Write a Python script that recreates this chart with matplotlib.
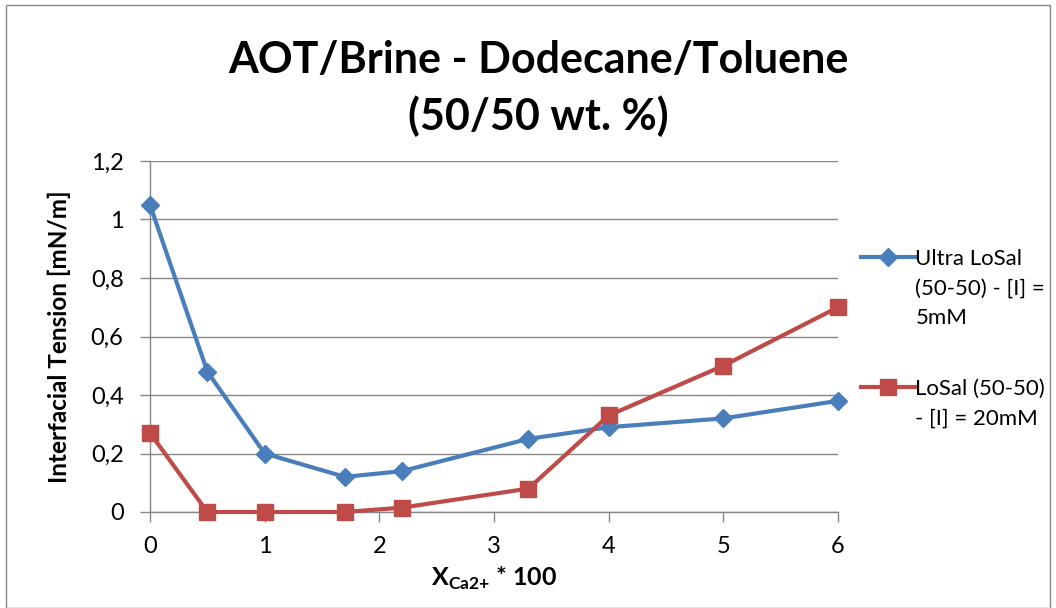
import matplotlib

matplotlib.use("Agg")
import matplotlib.pyplot as plt
from matplotlib.patches import Rectangle
from matplotlib.ticker import FuncFormatter, MultipleLocator

plt.rcParams["font.family"] = ["Lato", "DejaVu Sans"]

x_ca = [0, 0.5, 1, 1.7, 2.2, 3.3, 4, 5, 6]
ultra_losal = [1.05, 0.48, 0.20, 0.12, 0.14, 0.25, 0.29, 0.32, 0.38]
losal = [0.27, 0.0, 0.0, 0.0, 0.015, 0.08, 0.33, 0.50, 0.70]
series_labels = ["Ultra LoSal\n(50-50) - [I] =\n5mM", "LoSal (50-50)\n- [I] = 20mM"]
title = "AOT/Brine - Dodecane/Toluene\n(50/50 wt. %)"

blue = "#4a7ebb"
red = "#be4b48"
grid_c = "#868686"

fig = plt.figure(figsize=(10.56, 6.08), dpi=100)
ax = fig.add_axes([150 / 1056, 1 - 512 / 608, 688 / 1056, 351 / 608])

ax.plot(x_ca, ultra_losal, color=blue, lw=3, marker="D", ms=9,
        markerfacecolor=blue, markeredgecolor=blue, label=series_labels[0], zorder=3)
ax.plot(x_ca, losal, color=red, lw=3, marker="s", ms=12,
        markerfacecolor=red, markeredgecolor=red, label=series_labels[1], zorder=3)

ax.set_xlim(0, 6)
ax.set_ylim(0, 1.2)
ax.xaxis.set_major_locator(MultipleLocator(1))
ax.yaxis.set_major_locator(MultipleLocator(0.2))
ax.yaxis.set_major_formatter(FuncFormatter(lambda v, p: f"{v:.1f}".replace(".", ",").replace(",0", "")))
ax.grid(axis="y", color=grid_c, lw=1)
ax.set_axisbelow(True)
for s in ["top", "right"]:
    ax.spines[s].set_visible(False)
for s in ["left", "bottom"]:
    ax.spines[s].set_color(grid_c)
    ax.spines[s].set_linewidth(1)
ax.tick_params(direction="out", length=7, width=1, color=grid_c, labelsize=17)
ax.tick_params(axis="y", pad=12)
ax.tick_params(axis="x", pad=10)
for line in ax.get_lines():
    line.set_clip_on(False)

ax.set_ylabel("Interfacial Tension [mN/m]", fontsize=17.5, fontweight="bold", labelpad=14)
ax.set_xlabel(r"X$_{\mathregular{Ca2{+}}}$ * 100", fontsize=18, fontweight="bold", labelpad=6)
fig.suptitle(title, x=538 / 1056, y=0.935, fontsize=31, fontweight="bold", linespacing=1.45)

leg = fig.legend(loc="upper left", bbox_to_anchor=(852 / 1056, 1 - 240 / 608), frameon=False,
                 fontsize=16, handlelength=2.45, handletextpad=0.0, labelspacing=2.3,
                 borderaxespad=0)
for t in leg.get_texts():
    t.set_linespacing(1.6)
for col in leg._legend_handle_box.get_children():
    for row in col.get_children():
        row.align = "top"

fig.patches.append(Rectangle((6 / 1056, 0), 1 - 12 / 1056, 1 - 5 / 608, transform=fig.transFigure,
                             fill=False, edgecolor="#868686", lw=1))

fig.savefig("out.png", dpi=100)
